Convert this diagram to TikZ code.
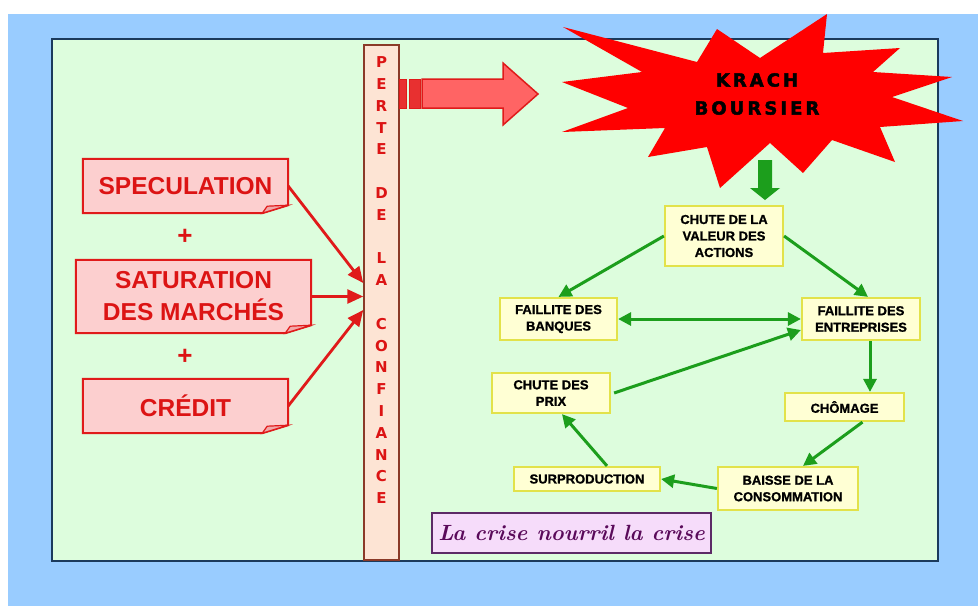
\documentclass[tikz,border=0pt]{standalone}
\usepackage{fontspec}
\usetikzlibrary{arrows.meta}
\newfontfamily\lsans{Liberation Sans}
\newfontfamily\lsansheavy{Liberation Sans}[UprightFont=* Bold, FakeBold=1.2]
\newfontfamily\djvheavy{DejaVu Sans}[UprightFont=* Bold]
\newfontfamily\djvls{DejaVu Sans}[UprightFont=* Bold, FakeBold=2.5, LetterSpace=17]
\definecolor{bgblue}{HTML}{99CCFF}
\definecolor{panelfill}{HTML}{DDFDDD}
\definecolor{panelline}{HTML}{1B3A5C}
\definecolor{redtxt}{HTML}{DC1414}
\definecolor{pinkfill}{HTML}{FCCFCF}
\definecolor{pinkfold}{HTML}{F2A8A8}
\definecolor{redline}{HTML}{E01A1A}
\definecolor{barfill}{HTML}{FDE4D4}
\definecolor{barline}{HTML}{8A3A28}
\definecolor{arrowfill}{HTML}{FF6464}
\definecolor{stripefill}{HTML}{E83030}
\definecolor{yfill}{HTML}{FFFFD4}
\definecolor{yborder}{HTML}{E2E24A}
\definecolor{garrow}{HTML}{1C9E1C}
\definecolor{violetfill}{HTML}{F6DCFA}
\definecolor{violetline}{HTML}{5C2A66}
\definecolor{violettxt}{HTML}{5A0A5A}
\pgfdeclarelayer{bg}
\pgfsetlayers{bg,main}
\tikzset{
  leftbox/.style={inner sep=0pt, text=redtxt, align=center,
    font=\lsans\bfseries\fontsize{24.5}{32}\selectfont},
  plussign/.style={inner sep=0pt, text=redtxt, font=\lsans\bfseries\fontsize{26}{26}\selectfont},
  ybox/.style={draw=yborder, line width=2.2pt, fill=yfill, inner sep=0pt, align=center,
    font=\lsansheavy\fontsize{13}{16.5}\selectfont},
  garr/.style={draw=garrow, line width=3pt, -{Triangle[length=13pt,width=13pt]}},
  gdarr/.style={draw=garrow, line width=3pt, {Triangle[length=13pt,width=13pt]}-{Triangle[length=13pt,width=13pt]}},
  rarr/.style={draw=redline, line width=2.8pt, -{Triangle[length=16pt,width=14pt]}},
  foldbox/.style={fill=pinkfill, draw=redline, line width=2pt, line join=miter},
}
\begin{document}
\begin{tikzpicture}[x=1pt,y=-1pt]
\useasboundingbox (0,0) rectangle (978,606);
\begin{pgfonlayer}{bg}
  \fill[bgblue] (8,14) rectangle (978,606);
  \draw[fill=panelfill, draw=panelline, line width=2pt] (52,39) rectangle (938,561);
\end{pgfonlayer}

% left boxes
\node[leftbox, minimum width=205pt, minimum height=54pt] (spec) at (185.5,186) {SPECULATION};
\node[plussign] (plus1) at (185,237) {+};
\node[leftbox, minimum width=235pt, minimum height=73pt] (sat) at (193.5,296.5) {SATURATION\\DES MARCHÉS};
\node[plussign] (plus2) at (185,357) {+};
\node[leftbox, minimum width=205pt, minimum height=54pt] (cred) at (185.5,406) {CRÉDIT};

\begin{pgfonlayer}{bg}
  \foreach \b in {spec,sat,cred}{
    \draw[foldbox] (\b.north west) -- (\b.north east) -- ([yshift=8pt]\b.south east)
      -- ([xshift=-26pt]\b.south east) -- (\b.south west) -- cycle;
    \draw[fill=pinkfold, draw=redline, line width=1.2pt]
      ([xshift=-26pt]\b.south east) -- ([xshift=-21pt,yshift=7pt]\b.south east)
      -- ([yshift=8pt]\b.south east) -- cycle;
  }
\end{pgfonlayer}

% vertical bar
\node[draw=barline, fill=barfill, line width=1.5pt, minimum width=35pt, minimum height=515pt, inner sep=0pt] (bar) at (381.5,302.5) {};
\node[anchor=north, inner sep=0pt, text=redtxt, align=center,
  font=\djvheavy\fontsize{15}{21.8}\selectfont] (bartxt) at (381.5,56.6)
  {P\\E\\R\\T\\E\\ \\D\\E\\ \\L\\A\\ \\C\\O\\N\\F\\I\\A\\N\\C\\E};

\draw[rarr] (spec.east) -- ([yshift=19.5pt]bar.west);
\draw[rarr] (sat.east) -- (sat.east -| bar.west);
\draw[rarr] (cred.east) -- ([yshift=-7.5pt]bar.west);

% big red arrow
\draw[fill=stripefill, draw=redline, line width=1pt] (399,79) rectangle (406,108);
\draw[fill=stripefill, draw=redline, line width=1pt] (409,79) rectangle (420,108);
\draw[fill=arrowfill, draw=redline, line width=1.5pt, line join=miter]
  (422,79) -- (503,79) -- (503,63) -- (538,94) -- (503,125) -- (503,108) -- (422,108) -- cycle;

% star
\fill[red] (563,27) -- (697,62) -- (717,29) -- (760,58) -- (827,14) -- (823,53) -- (900,48)
  -- (873,72) -- (952,77) -- (892,97) -- (963,121) -- (880,127) -- (895,162) -- (832,140)
  -- (803,173) -- (770,143) -- (720,188) -- (707,147) -- (648,157) -- (665,128) -- (562,132)
  -- (628,108) -- (562,82) -- (642,72) -- cycle;
\node[inner sep=0pt, align=center, font=\djvls\fontsize{18}{28}\selectfont] (krach) at (757,94) {KRACH\\BOURSIER};

% green down arrow
\fill[garrow] (758,160) -- (772,160) -- (772,188) -- (780,188) -- (765,200) -- (750,188) -- (758,188) -- cycle;

% cycle boxes
\node[ybox, minimum width=118pt, minimum height=60pt] (chute) at (724,236) {CHUTE DE LA\\VALEUR DES\\ACTIONS};
\node[ybox, minimum width=117pt, minimum height=42pt] (banq) at (558.5,319) {FAILLITE DES\\BANQUES};
\node[ybox, minimum width=118pt, minimum height=42pt] (entr) at (861,319) {FAILLITE DES\\ENTREPRISES};
\node[ybox, minimum width=118pt, minimum height=40pt] (prix) at (551,393) {CHUTE DES\\PRIX};
\node[ybox, minimum width=119pt, minimum height=28pt] (chom) at (844.5,407) {CHÔMAGE};
\node[ybox, minimum width=146pt, minimum height=24pt] (surp) at (587,479) {SURPRODUCTION};
\node[ybox, minimum width=140pt, minimum height=43pt] (baisse) at (788,488.5) {BAISSE DE LA\\CONSOMMATION};

\draw[garr] (chute.west) -- (banq.north);
\draw[garr] (chute.east) -- ([xshift=7pt]entr.north);
\draw[gdarr] (banq.east) -- (entr.west);
\draw[garr] ([xshift=3pt]prix.east) -- ([yshift=-11pt]entr.west);
\draw[garr] ([xshift=9pt]entr.south) -- ([xshift=9pt]entr.south |- chom.north);
\draw[garr] ([xshift=18pt]chom.south) -- ([xshift=15pt]baisse.north);
\draw[garr] (baisse.west) -- (surp.east);
\draw[garr] ([xshift=20pt]surp.north) -- ([xshift=11pt]prix.south);

% motto
\node[draw=violetline, fill=violetfill, line width=1.2pt, minimum width=279pt, minimum height=40pt, inner sep=0pt,
  text=violettxt, font=\bfseries\itshape\fontsize{22}{22}\selectfont] (motto) at (571.5,533) {La crise nourril la crise};
\end{tikzpicture}
\end{document}
